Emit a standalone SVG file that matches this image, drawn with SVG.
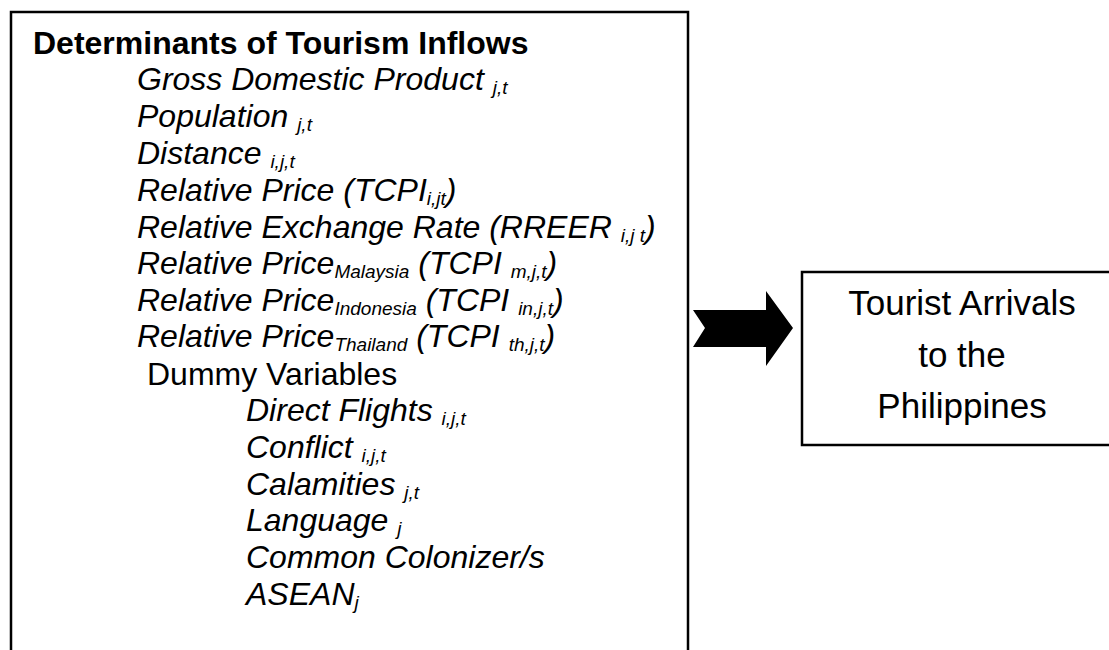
<svg xmlns="http://www.w3.org/2000/svg" width="1109" height="650" viewBox="0 0 1109 650">
<style>
.box{fill:#fff;stroke:#000;stroke-width:2.5}
text{font-family:"Liberation Sans",Arial,Helvetica,sans-serif;font-size:32px;fill:#000}
.b{font-weight:bold}
.i{font-style:italic}
.s{font-size:19px}
.r{font-size:35px;text-anchor:middle}
</style>
<rect width="1109" height="650" fill="#fff"/>
<g id="determinants">
<rect class="box" x="11" y="12" width="677" height="660"/>
<text class="b" x="33" y="54">Determinants of Tourism Inflows</text>
<text class="i" x="137" y="90">Gross Domestic Product <tspan class="s" dy="4">j,t</tspan></text>
<text class="i" x="137" y="127">Population <tspan class="s" dy="4">j,t</tspan></text>
<text class="i" x="137" y="164">Distance <tspan class="s" dy="4">i,j,t</tspan></text>
<text class="i" x="137" y="201">Relative Price (TCPI<tspan class="s" dy="4">i,jt</tspan><tspan dy="-4">)</tspan></text>
<text class="i" x="137" y="238">Relative Exchange Rate (RREER <tspan class="s" dy="4">i,j t</tspan><tspan dy="-4">)</tspan></text>
<text class="i" x="137" y="274">Relative Price<tspan class="s" dy="4">Malaysia</tspan><tspan dy="-4"> (TCPI </tspan><tspan class="s" dy="4">m,j,t</tspan><tspan dy="-4">)</tspan></text>
<text class="i" x="137" y="311">Relative Price<tspan class="s" dy="4">Indonesia</tspan><tspan dy="-4"> (TCPI </tspan><tspan class="s" dy="4">in,j,t</tspan><tspan dy="-4">)</tspan></text>
<text class="i" x="137" y="347">Relative Price<tspan class="s" dy="4">Thailand</tspan><tspan dy="-4"> (TCPI </tspan><tspan class="s" dy="4">th,j,t</tspan><tspan dy="-4">)</tspan></text>
<text x="147" y="385">Dummy Variables</text>
<text class="i" x="246" y="421">Direct Flights <tspan class="s" dy="4">i,j,t</tspan></text>
<text class="i" x="246" y="458">Conflict <tspan class="s" dy="4">i,j,t</tspan></text>
<text class="i" x="246" y="495">Calamities <tspan class="s" dy="4">j,t</tspan></text>
<text class="i" x="246" y="531">Language <tspan class="s" dy="4">j</tspan></text>
<text class="i" x="246" y="568">Common Colonizer/s</text>
<text class="i" x="246" y="605">ASEAN<tspan class="s" dy="4">j</tspan></text>
</g>
<g id="connectors">
<polygon points="693,310 766,310 766,291 793,328 766,366 766,347 693,347 705,328" fill="#000"/>
</g>
<g id="arrivals">
<rect class="box" x="802" y="272" width="330" height="173"/>
<text class="r" x="962" y="315">Tourist Arrivals</text>
<text class="r" x="962" y="367">to the</text>
<text class="r" x="962" y="418">Philippines</text>
</g>
</svg>
